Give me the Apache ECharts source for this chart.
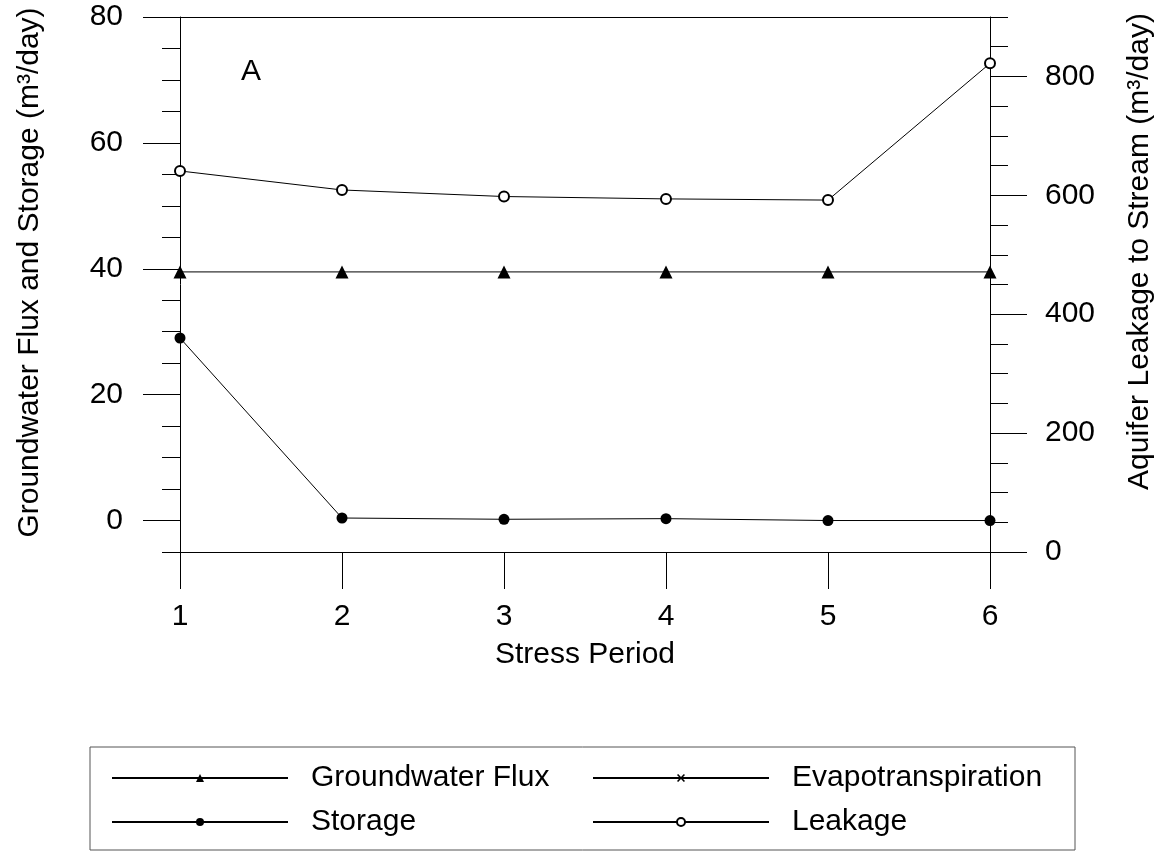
<!DOCTYPE html>
<html>
<head>
<meta charset="utf-8">
<script src="https://cdn.jsdelivr.net/npm/echarts@6/dist/echarts.min.js"></script>
<style>
html,body{margin:0;padding:0;background:#fff;}
#chart{width:1167px;height:853px;}
</style>
</head>
<body>
<div id="chart"></div>
<script>
const stressPeriods = [1, 2, 3, 4, 5, 6];
const groundwaterFlux = [39.5, 39.5, 39.5, 39.5, 39.5, 39.5];
const evapotranspiration = [null, null, null, null, null, null];
const storage = [29.0, 0.4, 0.2, 0.3, 0.0, 0.0];
const leakage = [641, 609, 598, 594, 592, 822];
const leftTicks = [0, 20, 40, 60, 80];
const rightTicks = [0, 200, 400, 600, 800];

const FONT = 'Liberation Sans, Arial, sans-serif';
const FS = 30;
const BLACK = '#000';

function pairs(xs, ys) { return xs.map((x, i) => [x, ys[i]]); }

const xPath = 'path://M0,1.4L1.4,0L5,3.6L8.6,0L10,1.4L6.4,5L10,8.6L8.6,10L5,6.4L1.4,10L0,8.6L3.6,5Z';

const chart = echarts.init(document.getElementById('chart'), null, {renderer: 'canvas'});
chart.setOption({
  animation: false,
  backgroundColor: '#fff',
  textStyle: {fontFamily: FONT, color: BLACK},
  title: {text: 'A', left: 236, top: 52, textStyle: {fontFamily: FONT, fontSize: FS, fontWeight: 'normal', color: BLACK}},
  grid: {left: 180, right: 177, top: 17, bottom: 301, containLabel: false},
  legend: {
    left: 90, top: 747, width: 990,
    orient: 'horizontal',
    borderColor: '#555', borderWidth: 1,
    padding: [16, 16, 13, 21],
    itemWidth: 176, itemHeight: 10, itemGap: 14,
    textStyle: {fontFamily: FONT, fontSize: FS, color: BLACK, width: 267, lineHeight: 30, padding: [0, 0, 0, 18]},
    data: ['Groundwater Flux', 'Evapotranspiration', 'Storage', 'Leakage']
  },
  xAxis: [{
    type: 'value', min: 1, max: 6, interval: 1, position: 'bottom',
    name: 'Stress Period', nameLocation: 'middle', nameGap: 88,
    nameTextStyle: {fontFamily: FONT, fontSize: FS, color: BLACK},
    axisLine: {show: true, onZero: false, lineStyle: {color: BLACK, width: 1}},
    axisTick: {show: true, inside: false, length: 37, lineStyle: {color: BLACK, width: 1}},
    axisLabel: {margin: 50, fontFamily: FONT, fontSize: FS, color: BLACK},
    splitLine: {show: false}
  }, {
    type: 'value', min: 1, max: 6, interval: 1, position: 'top',
    axisLine: {show: true, onZero: false, lineStyle: {color: BLACK, width: 1}},
    axisTick: {show: false}, axisLabel: {show: false}, splitLine: {show: false}
  }],
  yAxis: [{
    type: 'value', min: -5, max: 80, position: 'left',
    name: 'Groundwater Flux and Storage (m³/day)', nameLocation: 'middle', nameGap: 135,
    nameTextStyle: {fontFamily: FONT, fontSize: FS, color: BLACK, padding: [0, 0, 0, 24]},
    axisLine: {show: true, onZero: false, lineStyle: {color: BLACK, width: 1}},
    axisTick: {show: true, length: 37, customValues: leftTicks, lineStyle: {color: BLACK}},
    axisLabel: {margin: 57, customValues: leftTicks, fontFamily: FONT, fontSize: FS, color: BLACK},
    splitLine: {show: false}
  }, {
    type: 'value', min: -5, max: 80, interval: 5, position: 'left',
    axisLine: {show: false, onZero: false},
    axisTick: {show: true, length: 18, lineStyle: {color: BLACK}},
    axisLabel: {show: false}, splitLine: {show: false}
  }, {
    type: 'value', min: 0, max: 900, position: 'right',
    name: 'Aquifer Leakage to Stream (m³/day)', nameLocation: 'middle', nameGap: 135,
    nameTextStyle: {fontFamily: FONT, fontSize: FS, color: BLACK, padding: [0, 0, 0, 66]},
    axisLine: {show: true, onZero: false, lineStyle: {color: BLACK, width: 1}},
    axisTick: {show: true, length: 37, customValues: rightTicks, lineStyle: {color: BLACK}},
    axisLabel: {margin: 55, customValues: rightTicks, fontFamily: FONT, fontSize: FS, color: BLACK},
    splitLine: {show: false}
  }, {
    type: 'value', min: 0, max: 900, interval: 50, position: 'right',
    axisLine: {show: false, onZero: false},
    axisTick: {show: true, length: 18, lineStyle: {color: BLACK}},
    axisLabel: {show: false}, splitLine: {show: false}
  }],
  series: [{
    name: 'Groundwater Flux', type: 'line', xAxisIndex: 0, yAxisIndex: 0,
    data: pairs(stressPeriods, groundwaterFlux),
    symbol: 'triangle', symbolSize: 13,
    lineStyle: {color: BLACK, width: 1}, itemStyle: {color: BLACK}, z: 3
  }, {
    name: 'Evapotranspiration', type: 'line', xAxisIndex: 0, yAxisIndex: 0,
    data: pairs(stressPeriods, evapotranspiration),
    symbol: xPath, symbolSize: 10,
    lineStyle: {color: BLACK, width: 1}, itemStyle: {color: BLACK}, z: 2
  }, {
    name: 'Storage', type: 'line', xAxisIndex: 0, yAxisIndex: 0,
    data: pairs(stressPeriods, storage),
    symbol: 'circle', symbolSize: 11,
    lineStyle: {color: BLACK, width: 1}, itemStyle: {color: BLACK}, z: 3
  }, {
    name: 'Leakage', type: 'line', xAxisIndex: 0, yAxisIndex: 2,
    data: pairs(stressPeriods, leakage),
    symbol: 'emptyCircle', symbolSize: 10,
    lineStyle: {color: BLACK, width: 1}, itemStyle: {color: BLACK, borderColor: BLACK, borderWidth: 2}, z: 3
  }]
});
</script>
</body>
</html>
